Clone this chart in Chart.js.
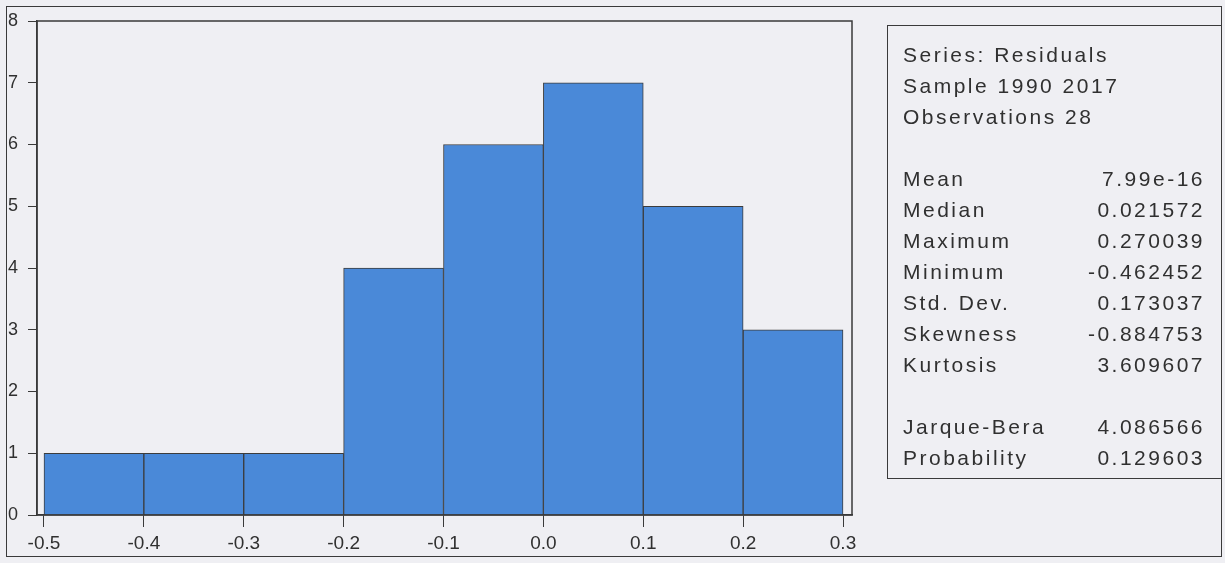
<!DOCTYPE html>
<html>
<head>
<meta charset="utf-8">
<script src="https://cdn.jsdelivr.net/npm/chart.js@4.4.1/dist/chart.umd.min.js"></script>
<style>
    html, body { margin: 0; padding: 0; background: #efeff3; }
    body { width: 1225px; height: 563px; position: relative; overflow: hidden; font-family: "Liberation Sans", Arial, sans-serif; color: #303030; }
    #wrap { position: absolute; left: 0; top: 0; width: 1225px; height: 563px; }
    .frame { position: absolute; left: 6px; top: 6px; width: 1214px; height: 549px; border: 1.5px solid #3a3a3a; }
    .stats { position: absolute; left: 887px; top: 25px; width: 333px; height: 452px; border: 1.5px solid #3a3a3a; border-right: none; }
    .row { position: absolute; left: 15px; height: 31px; line-height: 31px; font-size: 21px; letter-spacing: 2.5px; white-space: nowrap; }
    .val { position: absolute; right: 16px; height: 31px; line-height: 31px; font-size: 21px; letter-spacing: 2.5px; white-space: nowrap; }
</style>
</head>
<body>
<div class="frame"></div>
<div id="wrap"><canvas id="hist"></canvas></div>
<div class="stats" id="stats"></div>
<script>
// bins and counts
const binEdges = [-0.5, -0.4, -0.3, -0.2, -0.1, 0.0, 0.1, 0.2, 0.3];
const counts = [1, 1, 1, 4, 6, 7, 5, 3];
const xTicks = [-0.5, -0.4, -0.3, -0.2, -0.1, 0.0, 0.1, 0.2, 0.3];

// summary table on the right
const headLines = ['Series: Residuals', 'Sample 1990 2017', 'Observations 28'];
const statNames = ['Mean', 'Median', 'Maximum', 'Minimum', 'Std. Dev.', 'Skewness', 'Kurtosis'];
const statValues = ['7.99e-16', '0.021572', '0.270039', '-0.462452', '0.173037', '-0.884753', '3.609607'];
const testNames = ['Jarque-Bera', 'Probability'];
const testValues = ['4.086566', '0.129603'];

// stats box
const box = document.getElementById('stats');
let rows = [];
headLines.forEach(t => rows.push([t, '']));
rows.push(['', '']);
statNames.forEach((n, i) => rows.push([n, statValues[i]]));
rows.push(['', '']);
testNames.forEach((n, i) => rows.push([n, testValues[i]]));
rows.forEach((r, i) => {
    const top = 13 + i * 31;
    if (r[0]) box.insertAdjacentHTML('beforeend', `<div class="row" style="top:${top}px">${r[0]}</div>`);
    if (r[1]) box.insertAdjacentHTML('beforeend', `<div class="val" style="top:${top}px">${r[1]}</div>`);
});

const barData = counts.map((c, i) => ({ x: (binEdges[i] + binEdges[i + 1]) / 2, y: c }));

// draws the box round the plot area
const plotFrame = {
    id: 'plotFrame',
    afterDraw(chart) {
        const { ctx, chartArea: a } = chart;
        ctx.save();
        ctx.strokeStyle = '#3a3a3a';
        ctx.lineWidth = 1.5;
        ctx.strokeRect(a.left, a.top, a.right - a.left, a.bottom - a.top);
        ctx.restore();
    }
};

new Chart(document.getElementById('hist'), {
    type: 'bar',
    data: {
        datasets: [{
            data: barData,
            backgroundColor: '#4a89d8',
            borderColor: '#3c3c3c',
            borderWidth: 1,
            barPercentage: 1,
            categoryPercentage: 1
        }]
    },
    options: {
        responsive: true,
        maintainAspectRatio: false,
        animation: false,
        layout: { padding: { left: 8, top: 21, right: 373, bottom: 0 } },
        plugins: { legend: { display: false }, tooltip: { enabled: false } },
        scales: {
            x: {
                type: 'linear',
                offset: false,
                min: -0.507,
                max: 0.309,
                afterBuildTicks: (s) => { s.ticks = xTicks.map(v => ({ value: v })); },
                afterFit: (s) => { s.height = 48; },
                grid: { offset: false, drawOnChartArea: false, drawTicks: true, tickLength: 12, color: '#3a3a3a', lineWidth: 1 },
                border: { display: true, color: '#3a3a3a', width: 1.5 },
                ticks: {
                    padding: 5,
                    color: '#303030',
                    font: { family: '"Liberation Sans", Arial', size: 19 },
                    maxRotation: 0,
                    autoSkip: false,
                    callback: (v) => Number(v).toFixed(1)
                }
            },
            y: {
                min: 0,
                max: 8,
                afterFit: (s) => { s.width = 29; },
                grid: { drawOnChartArea: false, drawTicks: true, tickLength: 9, color: '#3a3a3a', lineWidth: 1 },
                border: { display: true, color: '#3a3a3a', width: 1.5 },
                ticks: {
                    stepSize: 1,
                    crossAlign: 'far',
                    color: '#303030',
                    font: { family: '"Liberation Sans", Arial', size: 18 }
                }
            }
        }
    },
    plugins: [plotFrame]
});
</script>
</body>
</html>
